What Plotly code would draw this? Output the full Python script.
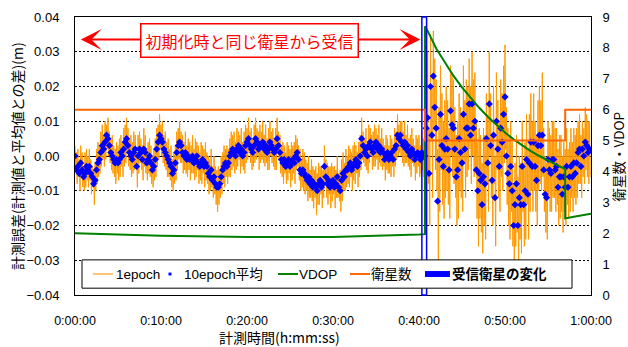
import plotly.graph_objects as go

# ---- data -------------------------------------------------------------
# 1 epoch residuals against the mean position [mm], one sample per 5 s
ep1_mm = [
    3, -4, 1, -8, 2, -6, -1, -10, 3, -5, 1, -9, -3, -10, 1, -9, 2, -7, 0, -9,
    2, -7, -1, -11, -3, -9, -4, -14, -2, -10, 2, -8, 4, -6, 3, -5, 7, -3, 9, -1,
    6, -3, 10, -1, 9, 2, 11, 0, 7, -2, 5, -4, 6, -5, 3, -6, 2, -8, 4, -5,
    3, -7, 5, -6, 6, -3, 4, -6, 8, -3, 9, -2, 11, 1, 8, -3, 5, -4, 6, -6,
    4, -5, 7, -4, 6, -3, 1, -9, 6, -5, 7, -2, 5, -4, 3, -7, 8, -3, 6, -5,
    2, -7, 4, -5, 5, -6, 3, -8, 0, -9, 2, -7, 5, -6, 8, -3, 9, -1, 12, 2,
    9, 0, 10, -2, 6, -3, 7, -4, 4, -6, 5, -6, 2, -7, 3, -9, -1, -10, 1, -8,
    3, -7, 7, -4, 8, -1, 10, -2, 7, -2, 6, -5, 4, -4, 7, -5, 3, -6, 5, -4,
    4, -7, 3, -5, 6, -5, 2, -7, 5, -6, 4, -4, 3, -8, 1, -7, 4, -8, 3, -5,
    2, -9, 4, -7, 1, -8, 0, -11, -1, -10, 2, -9, -3, -12, 0, -11, -3, -14, -4, -16,
    -3, -14, -4, -12, 0, -11, 1, -8, 3, -9, 2, -6, 3, -8, 2, -6, 5, -6, 7, -4,
    6, -3, 7, -5, 4, -4, 8, -3, 7, -1, 6, -5, 8, -3, 4, -4, 7, -5, 9, -2,
    8, -1, 11, 1, 7, -2, 8, -4, 5, -3, 9, -2, 11, -1, 8, 0, 7, -4, 9, -2,
    7, -1, 10, -2, 6, -3, 9, -2, 5, -4, 8, -4, 10, 0, 7, -2, 8, -3, 5, -4,
    8, -4, 11, 1, 7, -1, 6, -5, 3, -6, 4, -8, 3, -5, 1, -8, 4, -7, 3, -5,
    2, -9, 4, -7, 3, -5, 4, -8, 6, -4, 5, -3, 3, -7, 2, -10, -1, -9, 2, -10,
    1, -11, -1, -10, -2, -13, 0, -12, -4, -12, -1, -13, -3, -15, -4, -12, -3, -17, -5, -14,
    -2, -14, -3, -11, -3, -15, -4, -12, 3, -8, -1, -12, -2, -14, -3, -11, -3, -15, -2, -13,
    -3, -11, -3, -15, -4, -12, 0, -12, -5, -13, -4, -16, -1, -13, 1, -10, -2, -10, 2, -9,
    0, -8, 3, -9, 2, -6, 1, -10, 3, -7, 4, -8, 3, -5, 1, -9, 4, -6, 6, -4,
    11, -1, 7, -2, 5, -3, 8, -4, 4, -5, 9, -2, 8, 0, 6, -4, 7, -3, 9, -3,
    8, -1, 6, -4, 9, -2, 5, -3, 8, -4, 5, -3, 3, -7, 6, -4, 5, -5, 3, -5,
    6, -6, 5, -3, 3, -6, 8, -3, 7, -1, 12, 0, 9, 1, 10, 0, 10, -2, 7, -3,
    10, -2, 6, -2, 9, -3, 5, -4, 6, -6, 8, -2, 5, -3, 3, -7, 6, -5, 5, -3,
    6, -6, 3, -5, 7, -4, 5, -6,
    # after the change of received satellites
    12, -10, 22, -6, 30, -8, 8, -20, 35, 5, 20, -12, 36, 8, 28, -4, 22, -10, 2, -30,
    14, -16, 26, -4, 18, -14, 10, -18, 16, -12, 20, -10,
    16, -14, 8, -18, 26, 0, 24, -6, 22, -8, 14, -12, 6, -20, 10, -18, 18, -10, 14, -12,
    12, -16, 26, -2, 16, -12, 22, -6, 20, -4, 28, 2, 20, -8, 30, 0, 22, -6, 24, -4,
    10, -18, 4, -26, 8, -18, 6, -22, -2, -28, 8, -20, 6, -24, 18, -8, 12, -16, 30, 0,
    18, -12, 6, -20, 20, -8, 0, -26, 24, -4, 16, -12, 10, -16, 22, -6, 18, -10, 26, -2,
    32, 2, 14, -14, 8, -20, 6, -24, 10, -16, 4, -26, -8, -32, -2, -26, 6, -22, -6, -34,
    0, -24, -2, -28, 10, -16, -2, -26, 4, -24, 12, -14, 2, -24, 12, -16, 18, -10, 10, -16,
    18, -10, 10, -16, 6, -20, 16, -10, 20, -8, 16, -10, 24, -6, 8, -16, 0, -22, -2, -24,
    10, -12, 8, -16, 6, -16, 10, -12, 10, -12, 8, -16, 8, -14, 2, -20, 6, -18, 6, -16,
    0, -22, 4, -16, 2, -20, 8, -14, 2, -18, 4, -16, 8, -12, 4, -16, 8, -12, 6, -14,
    8, -12, 10, -8, 12, -8, 6, -12, 10, -6, 8, -8, 14, -4, 12, -6, 10, -8, 10, -6,
]

# 10 epoch moving means [mm], one value per 10 s
ep10_mm = [
    0, -4, -3, -5, -2, -4, -6, -5, -3, -4,
    -3, -5, -6, -8, -7, -4, -2, -1, 1, 3,
    2, 4, 6, 5, 3, 1, 0, -1, -2, -1,
    -2, -1, 1, 0, 2, 4, 5, 3, 1, 0,
    -1, 1, 2, -3, 0, 2, 1, -1, 2, 1,
    -2, -1, 0, -2, -4, -3, -1, 2, 4, 6,
    5, 4, 2, 1, 0, -1, -2, -3, -5, -4,
    -2, 1, 3, 4, 3, 1, 0, 1, -1, 0,
    -1, -1, 0, -2, -1, 0, -2, -3, -2, -1,
    -3, -2, -3, -5, -6, -4, -7, -6, -8, -9,
    -9, -8, -6, -4, -3, -2, -3, -2, 0, 1,
    2, 1, 0, 2, 3, 1, 2, 0, 1, 3,
    4, 5, 3, 2, 1, 3, 5, 4, 2, 3,
    3, 4, 2, 3, 1, 2, 4, 3, 2, 1,
    2, 5, 3, 1, -1, -2, -1, -3, -2, -1,
    -3, -2, -1, -2, 0, 1, -1, -4, -5, -4,
    -5, -6, -7, -6, -8, -7, -9, -8, -9, -10,
    -8, -7, -9, -8, -3, -6, -8, -7, -9, -8,
    -7, -9, -8, -6, -9, -10, -7, -5, -6, -4,
    -4, -3, -2, -4, -3, -2, -1, -3, -2, 0,
    5, 3, 1, 2, 0, 3, 4, 2, 1, 3,
    4, 2, 3, 1, 2, 1, -1, 0, 1, -1,
    0, 1, -1, 2, 3, 6, 5, 6, 4, 3,
    4, 2, 3, 1, 0, 2, 1, -1, 0, 1,
    0, -1, 1, 0,
    # after the change of received satellites
    0, 8, 11, -5, 20, 6, 23, 14, 8, -13, -1, 12, 3, -3, 2, 5,
    2, -4, 13, 9, 8, 2, -6, -4, 5, 1, -2, 12, 2, 8, 8, 15, 6, 15, 8, 10,
    -4, -10, -5, -7, -14, -6, -8, 5, -2, 15, 3, -7, 6, -12, 10, 2, -3, 8, 4, 12,
    17, 0, -5, -8, -3, -10, -20, -14, -8, -20, -12, -14, -3, -14, -10, -1, -11, -2, 4, -3,
    4, -3, -7, 3, 6, 3, 6, -4, -11, -12, -1, -4, -5, -1, -1, -4, -3, -9, -6, -6,
    -11, -6, -9, -3, -9, -6, -3, -6, -2, -5, -2, 1, 2, -3, 2, 0, 4, 3, 1, 2,
]

# VDOP [-] at elapsed time [s]
vdop_t = [0, 600, 1200, 1800, 2400, 2442, 2442, 2460, 2520, 2580, 2640, 2700,
          2760, 2820, 2880, 2940, 3000, 3060, 3120, 3180, 3240, 3300, 3360,
          3420, 3420, 3480, 3540, 3600]
vdop_v = [2.0, 1.92, 1.88, 1.88, 1.96, 1.97, 8.7, 8.55, 7.98, 7.52, 7.1, 6.72,
          6.38, 6.06, 5.77, 5.5, 5.26, 5.04, 4.84, 4.66, 4.5, 4.35, 4.21,
          4.08, 2.48, 2.53, 2.58, 2.63]

# number of satellites used
sat_t = [0, 2442, 2442, 3420, 3420, 3600]
sat_v = [6, 6, 5, 5, 6, 6]

# window in which the set of received satellites changes [s]
change_t = [2420, 2453]

# span of the "same satellites as at initialisation" period [s]
same_sat_t = [30, 2410]

x_tickvals = [0, 600, 1200, 1800, 2400, 3000, 3600]
x_ticktext = ["0:00:00", "0:10:00", "0:20:00", "0:30:00", "0:40:00", "0:50:00", "1:00:00"]

legend_names = ["1epoch", "10epoch平均", "VDOP", "衛星数", "<b>受信衛星の変化</b>"]

# ---- figure -----------------------------------------------------------
W, H = 628, 347
ML, MR, MT, MB = 75, 37, 10, 52
PW, PH = W - ML - MR, H - MT - MB


def px(x):
    """pixel column -> paper x"""
    return (x - ML) / PW


def py(y):
    """pixel row -> paper y"""
    return (H - MB - y) / PH


t1 = [5 * i for i in range(len(ep1_mm))]
t10 = [10 * i for i in range(len(ep10_mm))]
ep1 = [v / 1000 for v in ep1_mm]
ep10 = [v / 1000 for v in ep10_mm]

FONT = "Liberation Sans, Noto Sans CJK JP, sans-serif"
JP = "Noto Sans CJK JP, sans-serif"

C_EP1, C_EP10, C_VDOP, C_SAT, C_CHG = "#FF9900", "#0000FF", "#008000", "#FF6600", "#0000FF"

fig = go.Figure()
fig.add_trace(go.Scatter(x=t1, y=ep1, mode="lines", name=legend_names[0],
                         line=dict(color=C_EP1, width=1)))
fig.add_trace(go.Scatter(x=t10, y=ep10, mode="markers", name=legend_names[1],
                         marker=dict(color=C_EP10, size=5.5, symbol="diamond",
                                     line=dict(width=0))))
fig.add_trace(go.Scatter(x=vdop_t, y=vdop_v, mode="lines", name=legend_names[2], yaxis="y2",
                         line=dict(color=C_VDOP, width=2)))
fig.add_trace(go.Scatter(x=sat_t, y=sat_v, mode="lines", name=legend_names[3], yaxis="y2",
                         line=dict(color=C_SAT, width=2)))

# satellite-change marker: hollow blue band over the full height
fig.add_shape(type="rect", xref="x", yref="y domain",
              x0=change_t[0], x1=change_t[1], y0=0, y1=1,
              line=dict(color=C_CHG, width=1.5), fillcolor="rgba(0,0,0,0)",
              layer="above")

# ---- legend box (single row, drawn in paper coordinates) -------------
fig.add_shape(type="rect", xref="paper", yref="paper",
              x0=px(82), x1=px(572), y0=py(288), y1=py(259),
              line=dict(color="black", width=1), fillcolor="white", layer="above")
ly = py(273.5)
samples = [  # (x0, x1, colour, width) of each line sample
    (93, 113, "#FFB44A", 1.5),
    None,
    (278, 298, C_VDOP, 2),
    (350, 370, C_SAT, 2),
    (425, 450, C_CHG, 6),
]
text_x = [115, 183, 298, 370, 451]
for i, name in enumerate(legend_names):
    s = samples[i]
    if s is None:
        fig.add_shape(type="rect", xref="paper", yref="paper",
                      x0=px(168.5), x1=px(171.5), y0=py(275), y1=py(272),
                      line=dict(width=0), fillcolor=C_EP10, layer="above")
    else:
        fig.add_shape(type="line", xref="paper", yref="paper",
                      x0=px(s[0]), x1=px(s[1]), y0=ly, y1=ly,
                      line=dict(color=s[2], width=s[3]), layer="above")
    fig.add_annotation(x=px(text_x[i]), y=ly, xref="paper", yref="paper",
                       xanchor="left", yanchor="middle", showarrow=False,
                       text=name, borderpad=0,
                       font=dict(family=FONT, size=13.5, color="black"))

# double-headed arrow and its label
arrow_y = 0.0335
fig.add_annotation(x=same_sat_t[1], y=arrow_y, ax=same_sat_t[0], ay=arrow_y,
                   xref="x", yref="y", axref="x", ayref="y", text="",
                   showarrow=True, arrowside="end+start",
                   arrowhead=3, startarrowhead=3,
                   arrowsize=1.75, startarrowsize=1.75,
                   arrowwidth=2, arrowcolor="#FF0000")
fig.add_annotation(x=(same_sat_t[0] + same_sat_t[1]) / 2, y=0.0333, xref="x", yref="y",
                   text="初期化時と同じ衛星から受信", showarrow=False,
                   font=dict(family=JP, size=16, color="#FF0000"),
                   bgcolor="white", bordercolor="#FF0000", borderwidth=1.5, borderpad=4)

# axis titles
fig.add_annotation(x=px(17), y=0.5, xref="paper", yref="paper", textangle=-90,
                   xanchor="center", yanchor="middle",
                   text="計測誤差(計測値と平均値との差)(m)", showarrow=False,
                   font=dict(family=JP, size=14, color="black"))
fig.add_annotation(x=px(618), y=py(153), xref="paper", yref="paper", textangle=-90,
                   xanchor="center", yanchor="middle",
                   text="衛星数・VDOP", showarrow=False,
                   font=dict(family=JP, size=13.5, color="black"))
fig.add_annotation(x=px(279), y=py(338), xref="paper", yref="paper",
                   xanchor="center", yanchor="middle",
                   text="計測時間(h:mm:ss)", showarrow=False,
                   font=dict(family=JP, size=14, color="black"))

fig.update_layout(
    width=W, height=H,
    margin=dict(l=ML, r=MR, t=MT, b=MB),
    paper_bgcolor="white", plot_bgcolor="white",
    font=dict(family=FONT, size=13, color="black"),
    showlegend=False,
    xaxis=dict(range=[0, 3600], tickvals=x_tickvals, ticktext=x_ticktext,
               showgrid=False, zeroline=False, showline=True, linecolor="black",
               linewidth=1, mirror=True, ticks="", ticklabelstandoff=14,
               tickfont=dict(size=12.5)),
    yaxis=dict(range=[-0.04, 0.04], dtick=0.01, tickformat=".2f",
               showgrid=True, gridcolor="black", gridwidth=1, griddash="2px,2px",
               zeroline=True, zerolinecolor="black", zerolinewidth=1,
               showline=True, linecolor="black", linewidth=1, ticks="",
               ticklabelstandoff=12, tickfont=dict(size=13)),
    yaxis2=dict(range=[0, 9], dtick=1, overlaying="y", side="right",
                showgrid=False, zeroline=False, showline=True, linecolor="black",
                linewidth=1, ticks="", ticklabelstandoff=8, tickfont=dict(size=13)),
)

fig.write_html("out.html")
